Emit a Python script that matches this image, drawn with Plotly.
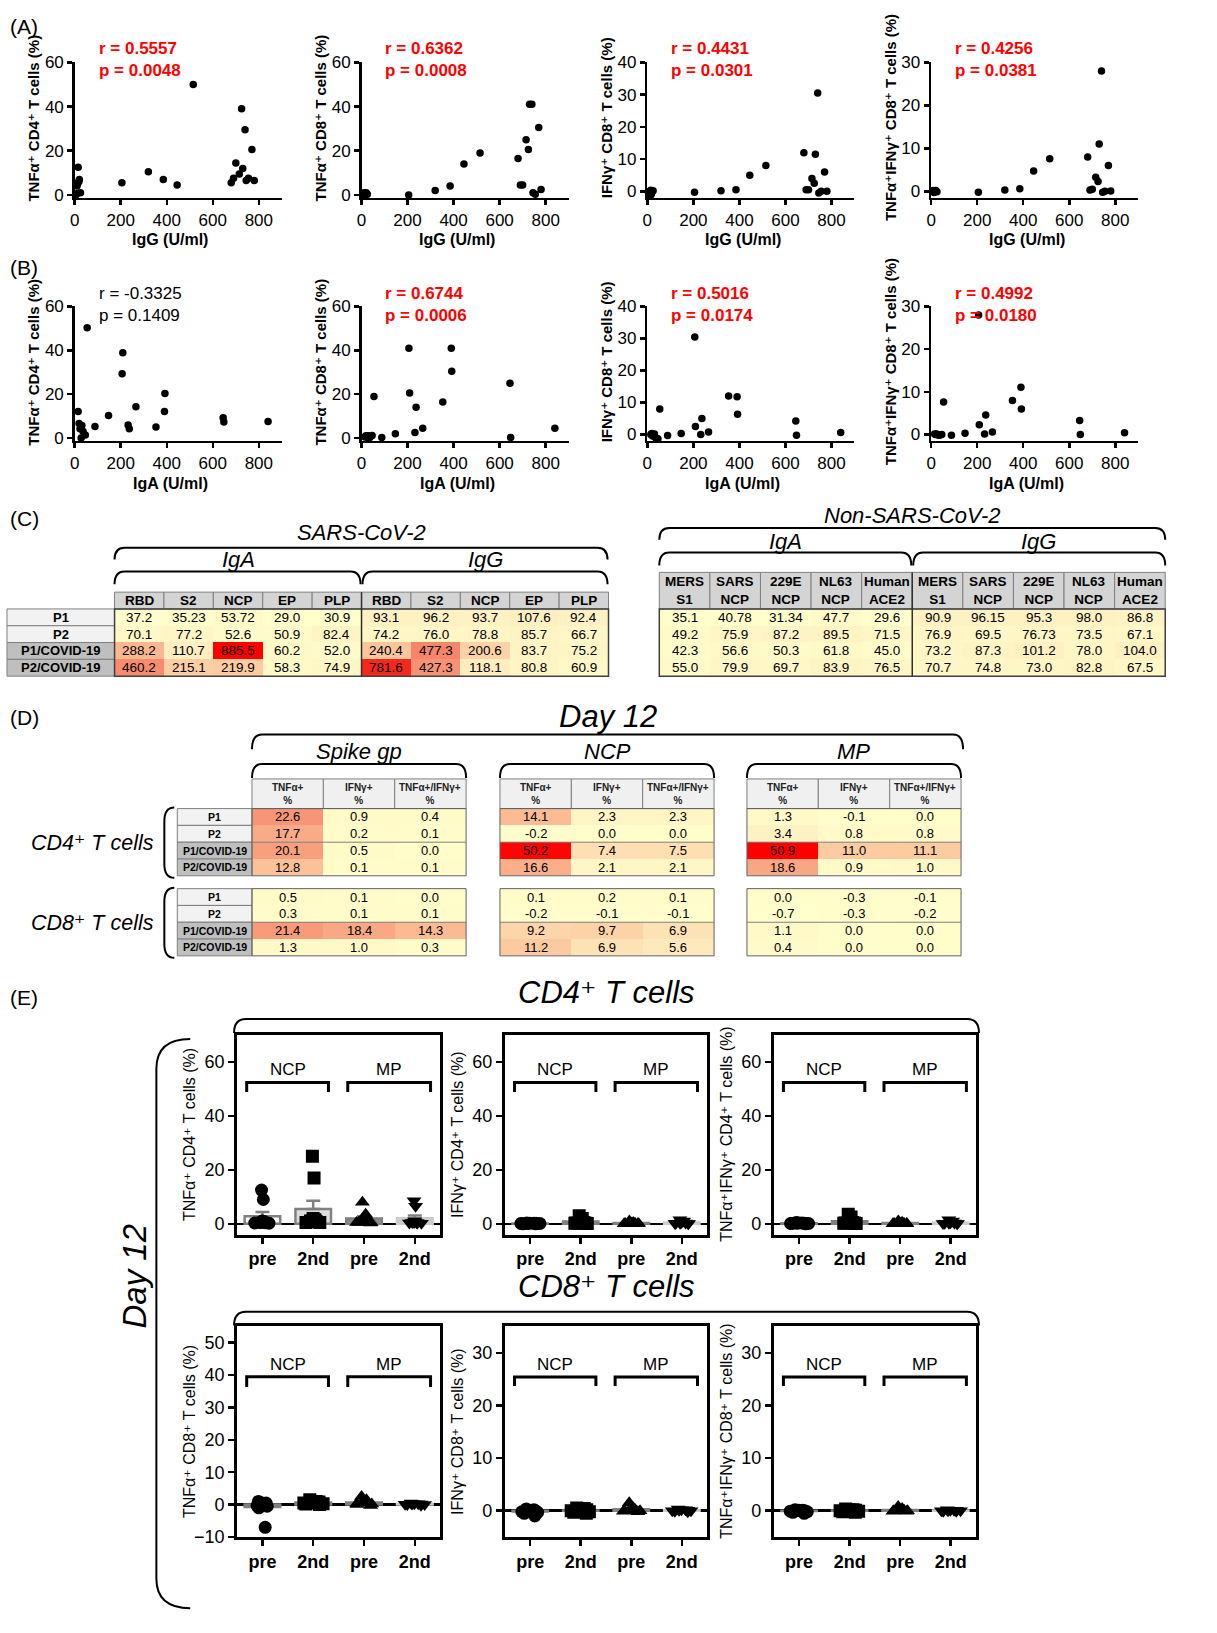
import numpy as np
import plotly.graph_objects as go

W, H = 1217, 1633
FONT = "Liberation Sans, Arial, DejaVu Sans, sans-serif"

# ======================= DATA =======================
# (A) IgG vs T-cell responses
igg_u_ml = [5, 8, 10, 12, 15, 18, 20, 25, 205, 320, 385, 445, 515,
            680, 690, 700, 715, 725, 730, 740, 745, 755, 770, 780]
a_tnf_cd4 = [0, 0.5, 4, 5, 12.5, 6, 7, 1, 5.5, 10.5, 7, 4.5, 50,
             5.5, 7.5, 14.5, 9.5, 39, 12, 29.5, 6.5, 7.5, 20.5, 6.5]
a_tnf_cd8 = [0.5, 0, 1, 0.5, 0.8, 0.2, 1, 0.3, 0, 2, 4, 14, 19,
             16.5, 4.5, 4.5, 25, 20.5, 41, 41, 1, 0.3, 30.5, 2.5]
a_ifn_cd8 = [-0.5, -1, 0, -1.5, 0.3, -0.8, 0, 0.2, -0.3, 0.2, 0.5, 5, 8,
             12, 0.5, 0.5, 4, 2.5, 11.5, 30.5, -0.5, 0, 6, 0]
a_tnfifn_cd8 = [0, 0.2, 0, -0.3, 0.1, 0, 0.2, -0.1, -0.2, 0.3, 0.6, 4.7, 7.6,
                8, 0.3, 0.5, 3.3, 2.3, 11, 28, -0.2, 0, 6, 0.1]
a_stats = [("r = 0.5557", "p = 0.0048", True), ("r = 0.6362", "p = 0.0008", True),
           ("r = 0.4431", "p = 0.0301", True), ("r = 0.4256", "p = 0.0381", True)]

# (B) IgA vs T-cell responses
iga_u_ml = [15, 19, 23, 28, 31, 36, 46, 54, 88, 147, 206, 209, 232, 237, 266,
            353, 390, 392, 645, 648, 840]
b_tnf_cd4 = [12.1, 6.7, 4.3, 0, 5.7, 3.1, 1.4, 50.3, 5.3, 10.3, 29.3, 38.9, 6, 4.3,
             14.3, 5, 12.1, 20.3, 9.3, 7.3, 7.5]
b_tnf_cd8 = [0.5, 1, 0.8, 0, 1, 0.3, 1.2, 19, 0.3, 2, 41, 20.5, 2.5, 14, 4.5,
             16.5, 41, 30.5, 25, 0.3, 4.5]
b_ifn_cd8 = [0, 0.3, -0.5, 0, 0.2, -1, -1.3, 8, -0.3, 0.3, 30.5, 2.5, 0, 5, 0.8,
             12, 11.8, 6.3, 4.2, -0.2, 0.6]
b_tnfifn_cd8 = [0.1, 0, 0.1, 0, -0.1, -0.2, 0, 7.6, -0.2, 0.3, 28, 2.3, 0.1, 4.6, 0.6,
                8, 11.1, 6, 3.3, 0, 0.4]
b_stats = [("r = -0.3325", "p = 0.1409", False), ("r = 0.6744", "p = 0.0006", True),
           ("r = 0.5016", "p = 0.0174", True), ("r = 0.4992", "p = 0.0180", True)]

y_titles = ["TNFα⁺ CD4⁺ T cells (%)",
            "TNFα⁺ CD8⁺ T cells (%)",
            "IFNγ⁺ CD8⁺ T cells (%)",
            "TNFα⁺IFNγ⁺ CD8⁺ T cells (%)"]

# (C) antibody tables
samples = ["P1", "P2", "P1/COVID-19", "P2/COVID-19"]
c_sars_antigens = ["RBD", "S2", "NCP", "EP", "PLP", "RBD", "S2", "NCP", "EP", "PLP"]
c_sars_p1 = ["37.2", "35.23", "53.72", "29.0", "30.9", "93.1", "96.2", "93.7", "107.6", "92.4"]
c_sars_p2 = ["70.1", "77.2", "52.6", "50.9", "82.4", "74.2", "76.0", "78.8", "85.7", "66.7"]
c_sars_p1c = ["288.2", "110.7", "885.5", "60.2", "52.0", "240.4", "477.3", "200.6", "83.7", "75.2"]
c_sars_p2c = ["460.2", "215.1", "219.9", "58.3", "74.9", "781.6", "427.3", "118.1", "80.8", "60.9"]
c_non_antigens = ["MERS<br>S1", "SARS<br>NCP", "229E<br>NCP", "NL63<br>NCP", "Human<br>ACE2",
                  "MERS<br>S1", "SARS<br>NCP", "229E<br>NCP", "NL63<br>NCP", "Human<br>ACE2"]
c_non_p1 = ["35.1", "40.78", "31.34", "47.7", "29.6", "90.9", "96.15", "95.3", "98.0", "86.8"]
c_non_p2 = ["49.2", "75.9", "87.2", "89.5", "71.5", "76.9", "69.5", "76.73", "73.5", "67.1"]
c_non_p1c = ["42.3", "56.6", "50.3", "61.8", "45.0", "73.2", "87.3", "101.2", "78.0", "104.0"]
c_non_p2c = ["55.0", "79.9", "69.7", "83.9", "76.5", "70.7", "74.8", "73.0", "82.8", "67.5"]

# (D) Day 12 T-cell tables (TNFa+, IFNg+, TNFa+/IFNg+ in %)
d_markers = ["TNFα+", "IFNγ+", "TNFα+/IFNγ+"]
d_cd4_spike = [["22.6", "0.9", "0.4"], ["17.7", "0.2", "0.1"], ["20.1", "0.5", "0.0"], ["12.8", "0.1", "0.1"]]
d_cd4_ncp = [["14.1", "2.3", "2.3"], ["-0.2", "0.0", "0.0"], ["50.2", "7.4", "7.5"], ["16.6", "2.1", "2.1"]]
d_cd4_mp = [["1.3", "-0.1", "0.0"], ["3.4", "0.8", "0.8"], ["50.9", "11.0", "11.1"], ["18.6", "0.9", "1.0"]]
d_cd8_spike = [["0.5", "0.1", "0.0"], ["0.3", "0.1", "0.1"], ["21.4", "18.4", "14.3"], ["1.3", "1.0", "0.3"]]
d_cd8_ncp = [["0.1", "0.2", "0.1"], ["-0.2", "-0.1", "-0.1"], ["9.2", "9.7", "6.9"], ["11.2", "6.9", "5.6"]]
d_cd8_mp = [["0.0", "-0.3", "-0.1"], ["-0.7", "-0.3", "-0.2"], ["1.1", "0.0", "0.0"], ["0.4", "0.0", "0.0"]]

# (E) Day 12 per-peptide responses: [NCP pre, NCP 2nd, MP pre, MP 2nd]
e_groups = ["pre", "2nd", "pre", "2nd"]
e_cd4_tnf = [[12.5, 9.0, 1.0, 0.5, 0.3, 0.2, 0.5, 0.8, 0.4],
             [25.0, 17.0, 2.0, 1.5, 1.0, 0.5, 0.5, 1.0, 0.8],
             [8.0, 3.5, 2.0, 1.5, 1.0, 0.5, 0.5, 0.3, 0.5],
             [8.5, 6.5, 1.0, 0.5, 0.5, 0.3, 0.3, 0.2, 0.5]]
e_cd4_ifn = [[0.3, 0.2, 0.1, 0.0, 0.1, 0.2, 0.0, 0.1, 0.2],
             [3.0, 2.0, 1.0, 0.3, 0.2, 0.1, 0.5, 0.2, 0.3],
             [1.0, 0.5, 0.3, 0.2, 0.1, 0.0, 0.1, 0.2, 0.0],
             [1.5, 1.0, 0.5, 0.2, 0.1, 0.1, 0.2, 0.0, 0.3]]
e_cd4_tnfifn = [[0.5, 0.3, 0.2, 0.1, 0.0, 0.2, 0.1, 0.3, 0.1],
                [3.5, 2.5, 1.0, 0.5, 0.3, 0.2, 0.4, 0.1, 0.3],
                [1.0, 0.6, 0.3, 0.2, 0.0, 0.1, 0.2, 0.1, 0.0],
                [1.5, 1.0, 0.4, 0.2, 0.1, 0.0, 0.3, 0.1, 0.2]]
e_cd8_tnf = [[-7.0, 1.0, 0.5, 0.3, -0.5, -1.0, 0.2, 0.5, -0.3],
             [1.5, 1.0, 0.8, 0.5, 0.3, 0.2, 0.0, 0.5, 1.0],
             [2.5, 1.5, 1.0, 0.5, 0.3, 0.0, -0.3, 0.2, 0.5],
             [0.5, 0.3, 0.2, 0.0, -0.2, 0.1, 0.3, 0.0, 0.2]]
e_cd8_ifn = [[0.2, -0.5, -1.0, 0.0, 0.3, -0.3, 0.1, 0.0, -0.2],
             [0.5, 0.3, -0.5, 0.0, 0.2, -0.3, 0.1, 0.4, -0.2],
             [1.5, 0.5, 0.2, 0.0, -0.2, 0.3, 0.1, 0.0, -0.1],
             [0.3, 0.2, 0.0, -0.1, 0.1, 0.2, 0.0, -0.2, 0.1]]
e_cd8_tnfifn = [[0.1, -0.3, -0.5, 0.0, 0.2, -0.2, 0.1, 0.0, -0.1],
                [0.3, 0.2, -0.3, 0.0, 0.1, -0.2, 0.1, 0.2, -0.1],
                [0.8, 0.4, 0.1, 0.0, -0.1, 0.2, 0.0, 0.0, -0.1],
                [0.2, 0.1, 0.0, -0.1, 0.1, 0.1, 0.0, -0.1, 0.0]]

# ======================= HELPERS =======================
CSCALE = [[0, "#FFFFCC"], [0.12, "#FEEABD"], [0.22, "#FCCDA2"], [0.32, "#FAB28C"],
          [0.5, "#F68C6E"], [0.8, "#F04030"], [1, "#FF0000"]]

axes = {}
traces = []
shapes = []
ann = []
counter = [0]


def px(x):
    return x / W


def py(y):
    return 1 - y / H


def add_axes(x0, x1, ytop, ybot, xo, yo):
    counter[0] += 1
    n = counter[0]
    s = "" if n == 1 else str(n)
    axes["xaxis" + s] = dict(domain=[px(x0), px(x1)], anchor="y" + s, **xo)
    axes["yaxis" + s] = dict(domain=[py(ybot), py(ytop)], anchor="x" + s, **yo)
    return "x" + s, "y" + s


def label(x, y, s, size=14, bold=False, italic=False, color="black",
          xanchor="center", yanchor="middle", angle=0):
    if bold:
        s = "<b>" + s + "</b>"
    if italic:
        s = "<i>" + s + "</i>"
    ann.append(dict(x=px(x), y=py(y), xref="paper", yref="paper", text=s, showarrow=False,
                    font=dict(size=size, color=color, family=FONT),
                    xanchor=xanchor, yanchor=yanchor, textangle=angle))


def rect(x0, y0, x1, y1, fill="rgba(0,0,0,0)", line="#808080", lw=1):
    shapes.append(dict(type="rect", xref="paper", yref="paper", x0=px(x0), x1=px(x1),
                       y0=py(y1), y1=py(y0), fillcolor=fill,
                       line=dict(color=line, width=lw), layer="above"))


def hline(x0, x1, y, color="black", lw=1):
    shapes.append(dict(type="line", xref="paper", yref="paper", x0=px(x0), x1=px(x1),
                       y0=py(y), y1=py(y), line=dict(color=color, width=lw), layer="above"))


def vline(x, y0, y1, color="black", lw=1):
    shapes.append(dict(type="line", xref="paper", yref="paper", x0=px(x), x1=px(x),
                       y0=py(y0), y1=py(y1), line=dict(color=color, width=lw), layer="above"))


def hbrace(x0, x1, y, drop, r=10, lw=2):
    p = (f"M {px(x0)},{py(y + drop)} Q {px(x0)},{py(y)} {px(x0 + r)},{py(y)} "
         f"L {px(x1 - r)},{py(y)} Q {px(x1)},{py(y)} {px(x1)},{py(y + drop)}")
    shapes.append(dict(type="path", path=p, xref="paper", yref="paper",
                       line=dict(color="black", width=lw)))


def vbrace(x, y0, y1, depth, r=12, lw=2):
    p = (f"M {px(x + depth)},{py(y0)} Q {px(x)},{py(y0)} {px(x)},{py(y0 + r)} "
         f"L {px(x)},{py(y1 - r)} Q {px(x)},{py(y1)} {px(x + depth)},{py(y1)}")
    shapes.append(dict(type="path", path=p, xref="paper", yref="paper",
                       line=dict(color="black", width=lw)))


# ======================= (A) & (B) scatter panels =======================
AX_X = [70, 358, 645, 930]
YCFG = [(60, 20, -1.3), (60, 20, -1.3), (40, 10, -2.0), (30, 10, -1.5)]


def scatter_panel(col, ytop, ybot, xs, ys, ytitle, xtitle, stat, ytitle_y, xtitle_y, rp_y):
    x0 = AX_X[col]
    ymax, ystep, ymin = YCFG[col]
    common = dict(showline=True, linecolor="black", linewidth=2.5, ticks="outside",
                  ticklen=5, tickwidth=2.5, tickcolor="black", showgrid=False,
                  zeroline=False, fixedrange=True,
                  tickfont=dict(size=17, family=FONT, color="black"))
    xa, ya = add_axes(x0, x0 + 208, ytop, ybot,
                      dict(range=[0, 900], tickvals=[0, 200, 400, 600, 800], **common),
                      dict(range=[ymin, ymax], tickvals=list(range(0, ymax + 1, ystep)), **common))
    traces.append(go.Scatter(x=xs, y=ys, mode="markers", xaxis=xa, yaxis=ya,
                             marker=dict(size=7.5, color="black"), cliponaxis=False,
                             hoverinfo="skip"))
    label(x0 - 41, ytitle_y, ytitle, size=15, bold=True, angle=-90)
    label(x0 + 96, xtitle_y, xtitle, size=16, bold=True)
    r_txt, p_txt, sig = stat
    color = "#FF0000" if sig else "black"
    label(x0 + 22, rp_y, r_txt, size=17, bold=sig, color=color, xanchor="left")
    label(x0 + 22, rp_y + 22, p_txt, size=17, bold=sig, color=color, xanchor="left")


label(3, 18, "(A)", size=21, xanchor="left")
for i, ys in enumerate([a_tnf_cd4, a_tnf_cd8, a_ifn_cd8, a_tnfifn_cd8]):
    scatter_panel(i, 54, 191, igg_u_ml, ys, y_titles[i], "IgG (U/ml)", a_stats[i], 110, 233, 40)

label(3, 262, "(B)", size=21, xanchor="left")
for i, ys in enumerate([b_tnf_cd4, b_tnf_cd8, b_ifn_cd8, b_tnfifn_cd8]):
    scatter_panel(i, 301, 437, iga_u_ml, ys, y_titles[i], "IgA (U/ml)", b_stats[i], 357, 480, 288)


# ======================= tables =======================
def heat_table(x0, x1, ytop, ybot, rows_text, zmin, zmax, fsize):
    nrow, ncol = len(rows_text), len(rows_text[0])
    xa, ya = add_axes(x0, x1, ytop, ybot,
                      dict(visible=False, range=[-0.5, ncol - 0.5], fixedrange=True),
                      dict(visible=False, range=[nrow - 0.5, -0.5], fixedrange=True))
    z = [[float(v) for v in r] for r in rows_text]
    traces.append(go.Heatmap(z=z, colorscale=CSCALE, zmin=zmin, zmax=zmax, showscale=False,
                             xaxis=xa, yaxis=ya, hoverinfo="skip", xgap=0, ygap=0))
    for i, r in enumerate(rows_text):
        for j, v in enumerate(r):
            ann.append(dict(x=j, y=i, xref=xa, yref=ya, text=v, showarrow=False,
                            font=dict(size=fsize, family=FONT, color="black")))


def row_labels(x0, x1, ytop, rh, fsize):
    fills = ["#F2F2F2", "#F2F2F2", "#BFBFBF", "#BFBFBF"]
    for i, s in enumerate(samples):
        y0 = ytop + i * rh
        rect(x0, y0, x1, y0 + rh, fill=fills[i], line="#7F7F7F", lw=1)
        label((x0 + x1) / 2, y0 + rh / 2, s, size=fsize, bold=True)


# ---- (C) ----
label(3, 516, "(C)", size=21, xanchor="left")
sars_rows = [c_sars_p1, c_sars_p2, c_sars_p1c, c_sars_p2c]
non_rows = [c_non_p1, c_non_p2, c_non_p1c, c_non_p2c]
c_all = [float(v) for r in sars_rows for v in r]
c_min, c_max = min(c_all), max(c_all)

# SARS-CoV-2 table
SX0, SX1, HY0, DY0, RH = 110, 606, 590, 607, 17
cw = (SX1 - SX0) / 10
label((SX0 + SX1) / 2, 530, "SARS-CoV-2", size=22, italic=True)
hbrace(SX0, SX1 - 1, 545, 12)
label(SX0 + 5 * cw * 0.5, 557, "IgA", size=22, italic=True)
label(SX0 + 5 * cw * 1.5, 557, "IgG", size=22, italic=True)
hbrace(SX0, SX0 + 5 * cw - 1, 569, 13)
hbrace(SX0 + 5 * cw + 1, SX1 - 1, 569, 13)
for i, s in enumerate(c_sars_antigens):
    rect(SX0 + i * cw, HY0, SX0 + (i + 1) * cw, DY0, fill="#D4D4D4", line="#7F7F7F")
    label(SX0 + (i + 0.5) * cw, (HY0 + DY0) / 2, s, size=13.5, bold=True)
row_labels(2, SX0, DY0, RH, 13)
heat_table(SX0, SX1, DY0, DY0 + 4 * RH, sars_rows, c_min, c_max, 13.5)
rect(SX0, DY0, SX1, DY0 + 4 * RH, line="#404040", lw=1.5)
vline(SX0 + 5 * cw, HY0, DY0 + 4 * RH, color="#303030", lw=1.5)

# Non-SARS-CoV-2 table
NX0, NX1, NHY0 = 657, 1165, 570
nw = (NX1 - NX0) / 10
label((NX0 + NX1) / 2, 512, "Non-SARS-CoV-2", size=22, italic=True)
hbrace(NX0, NX1, 525, 12)
label(NX0 + 5 * nw * 0.5, 539, "IgA", size=22, italic=True)
label(NX0 + 5 * nw * 1.5, 539, "IgG", size=22, italic=True)
hbrace(NX0, NX0 + 5 * nw - 1, 550, 13)
hbrace(NX0 + 5 * nw + 1, NX1, 550, 13)
for i, s in enumerate(c_non_antigens):
    rect(NX0 + i * nw, NHY0, NX0 + (i + 1) * nw, DY0, fill="#D4D4D4", line="#7F7F7F")
    label(NX0 + (i + 0.5) * nw, (NHY0 + DY0) / 2, s, size=13.5, bold=True)
heat_table(NX0, NX1, DY0, DY0 + 4 * RH, non_rows, c_min, c_max, 13.5)
rect(NX0, DY0, NX1, DY0 + 4 * RH, line="#404040", lw=1.5)
vline(NX0 + 5 * nw, NHY0, DY0 + 4 * RH, color="#303030", lw=1.5)

# ---- (D) ----
label(3, 717, "(D)", size=21, xanchor="left")
d_tables = [[d_cd4_spike, d_cd4_ncp, d_cd4_mp], [d_cd8_spike, d_cd8_ncp, d_cd8_mp]]
d_all = [float(v) for g in d_tables for t in g for r in t for v in r]
d_min, d_max = min(d_all), max(d_all)
BX = [248, 497, 745]
BW = 215
dcw = BW / 3
label(605, 716, "Day 12", size=31, italic=True)
hbrace(248, 962, 734, 15)
for bx, name in zip(BX, ["Spike gp", "NCP", "MP"]):
    label(bx + BW / 2, 751, name, size=22, italic=True)
    hbrace(bx, bx + BW, 764, 14)
    for j, m in enumerate(d_markers):
        rect(bx + j * dcw, 779, bx + (j + 1) * dcw, 809, fill="#F0F0F0", line="#808080")
        label(bx + (j + 0.5) * dcw, 794, m + "<br>%", size=10, bold=True, color="#222222")
D_ROWS_Y = [809, 890]
DRH = 17
for g, (gy, gname) in enumerate(zip(D_ROWS_Y, ["CD4⁺ T cells", "CD8⁺ T cells"])):
    row_labels(173, 248, gy, DRH, 10.5)
    for b, bx in enumerate(BX):
        heat_table(bx, bx + BW, gy, gy + 4 * DRH, d_tables[g][b], d_min, d_max, 13)
        rect(bx, gy, bx + BW, gy + 4 * DRH, line="#606060", lw=1)
        hline(bx, bx + BW, gy + 2 * DRH, color="#808080", lw=1)
    label(88, gy + 2 * DRH + 1, gname, size=21.5, italic=True)
    vbrace(160, gy - 1, gy + 4 * DRH + 2, 10, r=14)

# ======================= (E) bar + scatter panels =======================
label(3, 1000, "(E)", size=21, xanchor="left")
label(604, 995, "CD4⁺ T cells", size=31, italic=True)
hbrace(230, 978, 1022, 14, r=12)
label(604, 1293, "CD8⁺ T cells", size=31, italic=True)
hbrace(230, 978, 1318, 14, r=12)
vbrace(152, 1042, 1618, 34, r=30)
label(130, 1282, "Day 12", size=33, italic=True, angle=-90)

E_X = [(233, 437), (502, 705), (772, 975)]
SYMBOLS = ["circle", "square", "triangle-up", "triangle-down"]
BAR_FILL = ["#FFFFFF", "#DCDCDC", "#8C8C8C", "#CCCCCC"]
BAR_LINE = ["#808080", "#808080", "#808080", "#CCCCCC"]


def e_panel(col, ytop, ybot, groups, yrange, ytickvals, ytitle, br_y, br_leg):
    x0, x1 = E_X[col]
    frame = dict(showline=True, mirror=True, linecolor="black", linewidth=3,
                 ticks="outside", ticklen=6, tickwidth=2.5, tickcolor="black",
                 showgrid=False, fixedrange=True)
    xa, ya = add_axes(x0, x1, ytop, ybot,
                      dict(range=[-0.5, 3.5], tickvals=[0, 1, 2, 3],
                           ticktext=["<b>" + g + "</b>" for g in e_groups], zeroline=False,
                           tickfont=dict(size=18, family=FONT, color="black"), **frame),
                      dict(range=yrange, tickvals=ytickvals, zeroline=True,
                           zerolinecolor="black", zerolinewidth=2.5,
                           tickfont=dict(size=18, family=FONT, color="black"), **frame))
    arr = [np.array(g, dtype=float) for g in groups]
    means = [float(a.mean()) for a in arr]
    sems = [float(a.std(ddof=1) / np.sqrt(len(a))) for a in arr]
    traces.append(go.Bar(x=[0, 1, 2, 3], y=means, width=0.7, xaxis=xa, yaxis=ya,
                         marker=dict(color=BAR_FILL, line=dict(color=BAR_LINE, width=2.5)),
                         error_y=dict(type="data", array=sems, arrayminus=[0] * 4,
                                      symmetric=False, color="#808080", thickness=2.5, width=7),
                         hoverinfo="skip"))
    for i, g in enumerate(groups):
        traces.append(go.Box(x=[i] * len(g), y=g, xaxis=xa, yaxis=ya, boxpoints="all",
                             jitter=1.0, pointpos=0, width=0.5,
                             fillcolor="rgba(0,0,0,0)", line=dict(color="rgba(0,0,0,0)", width=0),
                             marker=dict(symbol=SYMBOLS[i], size=13, color="black"),
                             hoverinfo="skip"))
    for (bx0, bx1), name in zip([(-0.31, 1.30), (1.68, 3.31)], ["NCP", "MP"]):
        shapes.append(dict(type="path", xref=xa, yref=ya,
                           path=f"M {bx0},{br_leg} L {bx0},{br_y} L {bx1},{br_y} L {bx1},{br_leg}",
                           line=dict(color="black", width=3)))
        ann.append(dict(x=(bx0 + bx1) / 2, y=br_y, xref=xa, yref=ya, text=name,
                        showarrow=False, yanchor="bottom", yshift=1,
                        font=dict(size=17, family=FONT, color="black")))
    label(x0 - 47, (ytop + ybot) / 2, ytitle, size=16, angle=-90)


cd4_titles = ["TNFα⁺ CD4⁺ T cells (%)",
              "IFNγ⁺ CD4⁺ T cells (%)",
              "TNFα⁺IFNγ⁺ CD4⁺ T cells (%)"]
cd8_titles = ["TNFα⁺ CD8⁺ T cells (%)",
              "IFNγ⁺ CD8⁺ T cells (%)",
              "TNFα⁺IFNγ⁺ CD8⁺ T cells (%)"]
for i, grp in enumerate([e_cd4_tnf, e_cd4_ifn, e_cd4_tnfifn]):
    e_panel(i, 1038, 1240, grp, [-4, 70], [0, 20, 40, 60], cd4_titles[i], 52.4, 48.8)
e_panel(0, 1333, 1546, e_cd8_tnf, [-10, 55], [-10, 0, 10, 20, 30, 40, 50], cd8_titles[0], 39.5, 36.3)
e_panel(1, 1333, 1546, e_cd8_ifn, [-5, 35], [0, 10, 20, 30], cd8_titles[1], 25.4, 23.7)
e_panel(2, 1333, 1546, e_cd8_tnfifn, [-5, 35], [0, 10, 20, 30], cd8_titles[2], 25.4, 23.7)

# ======================= FIGURE =======================
fig = go.Figure(data=traces)
fig.update_layout(width=W, height=H, margin=dict(l=0, r=0, t=0, b=0),
                  paper_bgcolor="white", plot_bgcolor="white", showlegend=False,
                  shapes=shapes, annotations=ann, boxmode="overlay",
                  font=dict(family=FONT, color="black"), **axes)
fig.write_html("out.html", config={"displayModeBar": False, "staticPlot": True},
               post_script="document.body.style.margin='0px';document.body.style.overflow='hidden';")
